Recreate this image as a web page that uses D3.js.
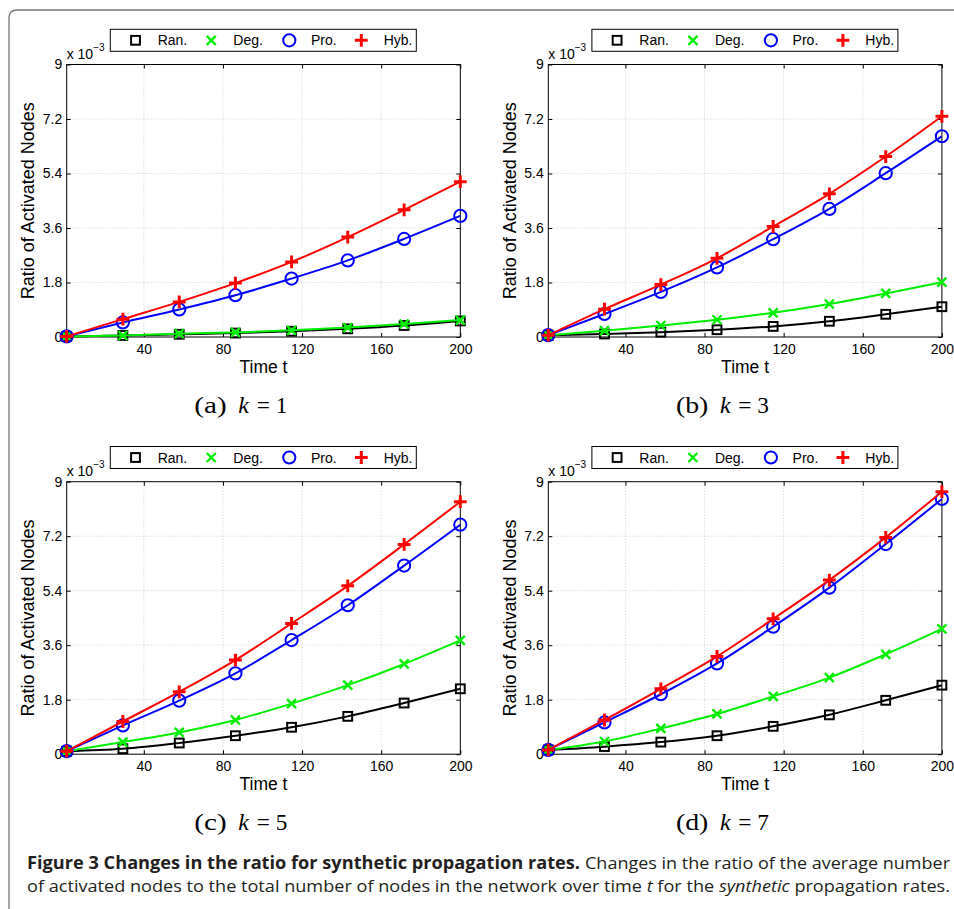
<!DOCTYPE html>
<html><head><meta charset="utf-8">
<script src="https://cdn.jsdelivr.net/npm/d3@7"></script>
<style>body{margin:0;background:#fff;} svg{display:block;}</style>
</head><body><svg id="c" width="954" height="909"></svg>
<script>
// ---------------- data ----------------
const timeSteps = [1, 29.4, 57.9, 86.3, 114.7, 143.1, 171.6, 200];
const xTicks = [40, 80, 120, 160, 200];
const yTicks = [0, 1.8, 3.6, 5.4, 7.2, 9];
const seriesNames = ["Ran.", "Deg.", "Pro.", "Hyb."];
const panelLetters = ["(a)", "(b)", "(c)", "(d)"];
const panelKValues = ["1", "3", "5", "7"];

// values in units of 10^-3
const ranK1 = [0.02, 0.05, 0.09, 0.13, 0.19, 0.27, 0.38, 0.53];
const degK1 = [0.02, 0.05, 0.11, 0.15, 0.22, 0.31, 0.43, 0.56];
const proK1 = [0.02, 0.48, 0.91, 1.38, 1.93, 2.53, 3.24, 4.00];
const hybK1 = [0.02, 0.59, 1.16, 1.78, 2.48, 3.30, 4.20, 5.13];

const ranK3 = [0.06, 0.10, 0.16, 0.24, 0.35, 0.52, 0.75, 1.00];
const degK3 = [0.06, 0.21, 0.38, 0.57, 0.80, 1.09, 1.44, 1.81];
const proK3 = [0.06, 0.76, 1.49, 2.30, 3.23, 4.23, 5.41, 6.63];
const hybK3 = [0.06, 0.92, 1.73, 2.60, 3.65, 4.73, 5.96, 7.29];

const ranK5 = [0.10, 0.18, 0.37, 0.61, 0.89, 1.25, 1.69, 2.16];
const degK5 = [0.10, 0.40, 0.72, 1.13, 1.67, 2.28, 2.98, 3.76];
const proK5 = [0.10, 0.95, 1.77, 2.67, 3.77, 4.92, 6.23, 7.58];
const hybK5 = [0.10, 1.08, 2.06, 3.11, 4.32, 5.56, 6.93, 8.34];

const ranK7 = [0.14, 0.25, 0.40, 0.61, 0.92, 1.30, 1.78, 2.28];
const degK7 = [0.14, 0.42, 0.85, 1.33, 1.91, 2.53, 3.30, 4.14];
const proK7 = [0.14, 1.05, 1.98, 3.00, 4.21, 5.50, 6.94, 8.43];
const hybK7 = [0.14, 1.13, 2.16, 3.23, 4.47, 5.75, 7.16, 8.67];

const captionBold = "Figure 3 Changes in the ratio for synthetic propagation rates.";
const captionLine1 = "Changes in the ratio of the average number";

// ---------------- drawing ----------------
const panelSeries = [
  [ranK1, degK1, proK1, hybK1],
  [ranK3, degK3, proK3, hybK3],
  [ranK5, degK5, proK5, hybK5],
  [ranK7, degK7, proK7, hybK7]
];
const colors = ["#000000", "#00ee00", "#0000ff", "#ff0000"];
const panelOrigins = [[66.7, 64.5], [548.3, 64.5], [66.7, 481.7], [548.3, 481.7]];
const PW = 393.6, PH = 272.5;
const sansFont = "'Liberation Sans', Arial, Helvetica, sans-serif";

const svg = d3.select("#c");

// frame
svg.append("path")
  .attr("d", "M9,909 V18 Q9,10 17,10 H954")
  .attr("fill", "none").attr("stroke", "#777").attr("stroke-width", 1.3);

function drawMarker(g, type, cx, cy, color) {
  if (type === 0) {
    g.append("rect").attr("x", cx - 4.4).attr("y", cy - 4.4).attr("width", 8.8).attr("height", 8.8)
      .attr("fill", "none").attr("stroke", color).attr("stroke-width", 2);
  } else if (type === 1) {
    const s = 4.5;
    g.append("path").attr("d", `M${cx - s},${cy - s}L${cx + s},${cy + s}M${cx - s},${cy + s}L${cx + s},${cy - s}`)
      .attr("stroke", color).attr("stroke-width", 2.4).attr("fill", "none");
  } else if (type === 2) {
    g.append("circle").attr("cx", cx).attr("cy", cy).attr("r", 6.1)
      .attr("fill", "none").attr("stroke", color).attr("stroke-width", 2);
  } else {
    const s = 6.4;
    g.append("path").attr("d", `M${cx - s},${cy}L${cx + s},${cy}M${cx},${cy - s}L${cx},${cy + s}`)
      .attr("stroke", color).attr("stroke-width", 3).attr("fill", "none");
  }
}

panelSeries.forEach((series, pi) => {
  const [x0, y0] = panelOrigins[pi];
  const x = d3.scaleLinear().domain([1, 200]).range([x0, x0 + PW]);
  const y = d3.scaleLinear().domain([0, 9]).range([y0 + PH, y0]);
  const g = svg.append("g");

  // grid
  const grid = g.append("g").attr("stroke", "#cfcfcf").attr("stroke-width", 1).attr("stroke-dasharray", "1,2");
  xTicks.filter(t => t < 200).forEach(t => {
    grid.append("line").attr("x1", x(t)).attr("x2", x(t)).attr("y1", y0).attr("y2", y0 + PH);
  });
  yTicks.filter(t => t > 0 && t < 9).forEach(t => {
    grid.append("line").attr("x1", x0).attr("x2", x0 + PW).attr("y1", y(t)).attr("y2", y(t));
  });

  // axes
  const fmt = d => String(d);
  const ax = (axis, tx, ty) => {
    const a = g.append("g").attr("transform", `translate(${tx},${ty})`).call(axis);
    a.select(".domain").remove();
    a.selectAll("text").attr("font-family", sansFont).attr("font-size", 14).attr("fill", "#000");
    a.selectAll("line").attr("stroke", "#000");
    return a;
  };
  ax(d3.axisBottom(x).tickValues(xTicks).tickSizeInner(-4).tickSizeOuter(0).tickPadding(7).tickFormat(fmt), 0, y0 + PH);
  ax(d3.axisTop(x).tickValues(xTicks).tickSizeInner(-4).tickSizeOuter(0).tickFormat(""), 0, y0);
  ax(d3.axisLeft(y).tickValues(yTicks).tickSizeInner(-4).tickSizeOuter(0).tickPadding(4.5).tickFormat(fmt), x0, 0);
  ax(d3.axisRight(y).tickValues(yTicks).tickSizeInner(-4).tickSizeOuter(0).tickFormat(""), x0 + PW, 0);

  g.append("rect").attr("x", x0).attr("y", y0).attr("width", PW).attr("height", PH)
    .attr("fill", "none").attr("stroke", "#000").attr("stroke-width", 1);

  // series
  const line = d3.line().x((d, i) => x(timeSteps[i])).y(d => y(d)).curve(d3.curveMonotoneX);
  series.forEach((vals, si) => {
    g.append("path").attr("d", line(vals)).attr("fill", "none")
      .attr("stroke", colors[si]).attr("stroke-width", 2);
    vals.forEach((v, i) => drawMarker(g, si, x(timeSteps[i]), y(v), colors[si]));
  });

  // exponent label
  const ex = g.append("text").attr("x", x0).attr("y", y0 - 5.5)
    .attr("font-family", sansFont).attr("font-size", 14);
  ex.append("tspan").text("x 10");
  ex.append("tspan").attr("font-size", 10).attr("dy", -8.5).text("\u22123");

  // axis titles
  g.append("text").attr("x", x0 + PW / 2).attr("y", y0 + PH + 35.7)
    .attr("text-anchor", "middle").attr("font-family", sansFont).attr("font-size", 17.5).text("Time t");
  g.append("text").attr("transform", `translate(${x0 - 32.4},${y0 + PH / 2}) rotate(-90)`)
    .attr("text-anchor", "middle").attr("font-family", sansFont).attr("font-size", 18)
    .text("Ratio of Activated Nodes");

  // legend
  const lx = x0 + 43.6, ly = y0 - 35.2;
  g.append("rect").attr("x", lx).attr("y", ly).attr("width", 306).attr("height", 22)
    .attr("fill", "#fff").attr("stroke", "#000").attr("stroke-width", 1);
  const mOff = [25.2, 101, 179, 251], tOff = [47.4, 123, 200.7, 273.4];
  seriesNames.forEach((nm, si) => {
    drawMarker(g, si, lx + mOff[si], ly + 11, colors[si]);
    g.append("text").attr("x", lx + tOff[si]).attr("y", ly + 16)
      .attr("font-family", sansFont).attr("font-size", 14).text(nm);
  });

  // sub caption
  const sy = y0 + PH + 76;
  const serif = "'Liberation Serif', 'DejaVu Serif', serif";
  g.append("text").attr("x", x0 + 127.6).attr("y", sy).attr("font-family", serif).attr("font-size", 24)
    .attr("textLength", 32.4).attr("lengthAdjust", "spacingAndGlyphs").text(panelLetters[pi]);
  g.append("text").attr("x", x0 + 171.6).attr("y", sy).attr("font-family", serif).attr("font-size", 24)
    .attr("font-style", "italic").text("k");
  g.append("text").attr("x", x0 + 190).attr("y", sy).attr("font-family", serif).attr("font-size", 24)
    .attr("textLength", 30.6).attr("lengthAdjust", "spacingAndGlyphs").text("= " + panelKValues[pi]);
});

// caption
const capFont = "'Open Sans', 'Noto Sans', sans-serif";
function capText(x, yb, len) {
  return svg.append("text").attr("x", x).attr("y", yb)
    .attr("font-family", capFont).attr("font-size", 17).attr("fill", "#231f20")
    .attr("textLength", len).attr("lengthAdjust", "spacingAndGlyphs");
}
capText(27, 869, 553).attr("font-weight", "bold").text(captionBold);
capText(585, 869, 365).text(captionLine1);
const c3 = capText(27, 892, 923);
c3.append("tspan").text("of activated nodes to the total number of nodes in the network over time ");
c3.append("tspan").attr("font-style", "italic").text("t");
c3.append("tspan").text(" for the ");
c3.append("tspan").attr("font-style", "italic").text("synthetic");
c3.append("tspan").text(" propagation rates.");
</script></body></html>
